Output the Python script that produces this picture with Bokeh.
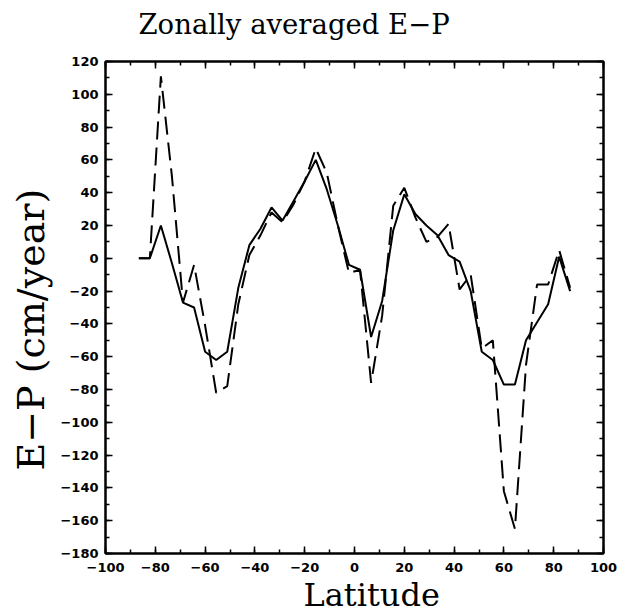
from bokeh.plotting import figure
from bokeh.models import LinearAxis, SingleIntervalTicker, Title, Range1d, CustomJSTickFormatter
from bokeh.embed import file_html
from bokeh.resources import INLINE

# Gaussian latitudes (40 rows)
lat = [-86.60, -82.19, -77.76, -73.32, -68.88, -64.43, -59.99, -55.55, -51.11, -46.66,
       -42.22, -37.77, -33.33, -28.89, -24.44, -20.00, -15.55, -11.11, -6.67, -2.22,
       2.22, 6.67, 11.11, 15.55, 20.00, 24.44, 28.89, 33.33, 37.77, 42.22,
       46.66, 51.11, 55.55, 59.99, 64.43, 68.88, 73.32, 77.76, 82.19, 86.60]

ep_solid = [0, 0, 20, -3, -27, -30, -57, -62, -57, -18,
            8, 18, 31, 23, 35, 47, 60, 42, 20, -4,
            -7, -48, -26, 17, 39, 27, 20, 14, 2, -2,
            -20, -57, -62, -77, -77, -50, -39, -28, 1, -20]

ep_dashed = [0, 0, 111, 50, -27, -4, -41, -82, -78, -28,
             2, 14, 28, 22, 33, 47, 67, 52, 20, -9,
             -7, -76, -35, 32, 43, 25, 10, 13, 21, -19,
             -10, -55, -50, -142, -165, -65, -16, -16, 5, -18]

title_text = "Zonally averaged E\u2212P"
xlabel_text = "Latitude"
ylabel_text = "E\u2212P (cm/year)"

p = figure(width=628, height=613,
           x_range=Range1d(-100, 100), y_range=Range1d(-180, 120),
           output_backend="svg", toolbar_location=None,
           min_border_left=105, min_border_right=25,
           min_border_top=61, min_border_bottom=60)

p.grid.visible = False
p.outline_line_color = "black"
p.outline_line_width = 2
p.background_fill_color = "white"
p.border_fill_color = "white"

def style_axis(ax, show_labels):
    ax.axis_line_width = 2
    ax.axis_line_color = "black"
    ax.major_tick_in = 7
    ax.major_tick_out = 0
    ax.minor_tick_in = 4
    ax.minor_tick_out = 0
    ax.major_tick_line_width = 1.5
    ax.minor_tick_line_width = 1.5
    ax.major_tick_line_color = "black"
    ax.minor_tick_line_color = "black"
    if show_labels:
        ax.major_label_text_font = "DejaVu Sans"
        ax.major_label_text_font_style = "bold"
        ax.major_label_text_font_size = "13px"
        ax.major_label_text_color = "black"
        ax.major_label_standoff = 7
    else:
        ax.formatter = CustomJSTickFormatter(code="return ''")
        ax.major_label_standoff = 0

xa = p.xaxis[0]
xa.ticker = SingleIntervalTicker(interval=20, num_minor_ticks=2)
style_axis(xa, True)
xa.major_label_standoff = 9
ya = p.yaxis[0]
ya.ticker = SingleIntervalTicker(interval=20, num_minor_ticks=2)
style_axis(ya, True)

top = LinearAxis(ticker=SingleIntervalTicker(interval=20, num_minor_ticks=2))
style_axis(top, False)
p.add_layout(top, "above")
# spacer between the top axis and the title
spacer = Title(text=" ", text_font_size="18px", standoff=0)
p.add_layout(spacer, "above")
right = LinearAxis(ticker=SingleIntervalTicker(interval=20, num_minor_ticks=2))
style_axis(right, False)
p.add_layout(right, "right")

p.line(lat, ep_solid, line_color="black", line_width=2)
p.line(lat, ep_dashed, line_color="black", line_width=2, line_dash="18 8")

p.title.text = title_text
p.title.align = "left"
p.title.offset = 33
p.title.text_font = "DejaVu Serif"
p.title.text_font_size = "27.5px"
p.title.text_font_style = "normal"
p.title.text_color = "black"
p.title.vertical_align = "bottom"
p.title.standoff = 0

xt = Title(text=xlabel_text, align="left", offset=198, text_font="DejaVu Serif",
           text_font_size="32px", text_font_style="normal", text_color="black", standoff=-2)
p.add_layout(xt, "below")
yt = Title(text=ylabel_text, align="left", offset=83, text_font="DejaVu Serif",
           text_font_size="38px", text_font_style="normal", text_color="black", standoff=10)
p.add_layout(yt, "left")

open("out.html", "w").write(file_html(p, INLINE))
